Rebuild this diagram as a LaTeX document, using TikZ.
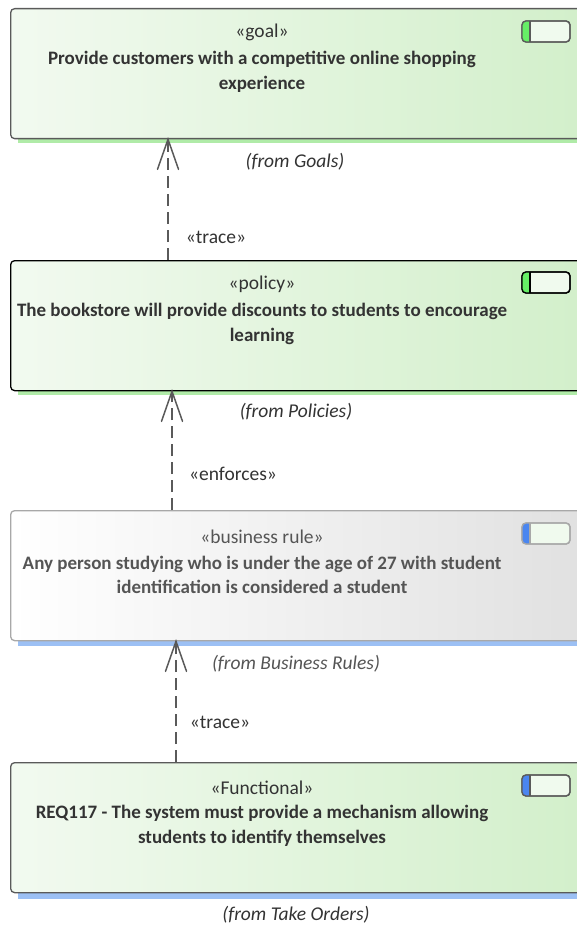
\documentclass[tikz,border=0pt]{standalone}
\usepackage{fontspec}
\setmainfont{Carlito}
\usetikzlibrary{calc}
\definecolor{gl}{HTML}{F2FAF0}
\definecolor{gr}{HTML}{D2EFCA}
\definecolor{gshadow}{HTML}{B0EBA8}
\definecolor{bshadow}{HTML}{9CC0F4}
\definecolor{edge}{HTML}{5A5A5A}
\definecolor{rulegray}{HTML}{A8A8A8}
\definecolor{txtdark}{HTML}{333333}
\definecolor{txtgray}{HTML}{555555}
\definecolor{tgreen}{HTML}{66EE66}
\definecolor{tblue}{HTML}{4A86F0}
\definecolor{tfill}{HTML}{F0FAEE}
\tikzset{
  elembox/.style={draw=edge, line width=1.3pt, rounded corners=4pt, left color=gl, right color=gr, minimum width=580pt, minimum height=130pt, inner sep=0pt, anchor=north west},
  stereo/.style={font=\fontsize{19.5pt}{22pt}\selectfont, text=txtdark},
  title/.style={font=\fontsize{19pt}{24.5pt}\selectfont\bfseries, align=center, text=txtdark},
  origin/.style={font=\fontsize{19.5pt}{22pt}\selectfont\itshape, text=txtdark},
  rellabel/.style={font=\fontsize{19.5pt}{22pt}\selectfont, text=txtdark},
  dep/.style={draw=edge, line width=1.5pt, dash pattern=on 12pt off 6pt},
  barb/.style={draw=edge, line width=1.5pt, line cap=round},
  toggle/.style={draw=edge, line width=1.3pt, rounded corners=4pt, fill=tfill}
}
\begin{document}
\begin{tikzpicture}[x=1pt,y=-1pt]
\useasboundingbox (0,0) rectangle (577,925);
\clip (0,0) rectangle (577,925);
\fill[white] (0,0) rectangle (577,925);
% shadows
\fill[gshadow] (18,136) rectangle (590,143);
\fill[gshadow] (18,388) rectangle (590,395);
\fill[bshadow] (18,638) rectangle (590,646);
\fill[bshadow] (18,891) rectangle (590,899);
% boxes
\node[elembox] (goal) at (10,8) {};
\node[elembox, draw=black] (policy) at (10,260) {};
\node[elembox, draw=rulegray, left color=white, right color=black!12] (brule) at (10,510) {};
\node[elembox] (func) at (10,762) {};
% toggles
\foreach \y/\c/\e in {21/tgreen/edge, 272/tgreen/black, 523/tblue/rulegray, 775/tblue/edge}{
  \draw[toggle, draw=\e] (522,\y) rectangle (570,\y+21);
  \begin{scope}
    \clip[rounded corners=4pt] (522,\y) rectangle (570,\y+21);
    \fill[\c] (522,\y) rectangle (530,\y+21);
  \end{scope}
  \draw[toggle, draw=\e, fill=none] (522,\y) rectangle (570,\y+21);
  \draw[draw=\e, line width=1.3pt] (530,\y) -- (530,\y+21);
}
% texts
\node[stereo] (s1) at (262,32) {«goal»};
\node[title] (t1) at (262,72) {Provide customers with a competitive online shopping\\experience};
\node[origin] (o1) at (295,162) {(from Goals)};
\node[stereo] (s2) at (262,284) {«policy»};
\node[title] (t2) at (262,324) {The bookstore will provide discounts to students to encourage\\learning};
\node[origin] (o2) at (296,412) {(from Policies)};
\node[stereo, text=txtgray] (s3) at (262,537) {«business rule»};
\node[title, text=txtgray] (t3) at (262,575) {Any person studying who is under the age of 27 with student\\identification is considered a student};
\node[origin, text=txtgray] (o3) at (296,664) {(from Business Rules)};
\node[stereo] (s4) at (262,788) {«Functional»};
\node[title] (t4) at (262,826) {REQ117 - The system must provide a mechanism allowing\\students to identify themselves};
\node[origin] (o4) at (296,915) {(from Take Orders)};
% connectors
\coordinate (a1s) at (168,260);
\coordinate (a2s) at (172,510);
\coordinate (a3s) at (176,762);
\foreach \s/\t in {a1s/goal, a2s/policy, a3s/brule}{
  \draw[dep] (\s) -- (\t.south -| \s);
  \draw[barb] ($(\t.south -| \s)+(-10.5,30)$) -- (\t.south -| \s) -- ++(10.5,30);
}
\node[rellabel] (l1) at (216,237) {«trace»};
\node[rellabel] (l2) at (233,474) {«enforces»};
\node[rellabel] (l3) at (220,722) {«trace»};
\end{tikzpicture}
\end{document}
